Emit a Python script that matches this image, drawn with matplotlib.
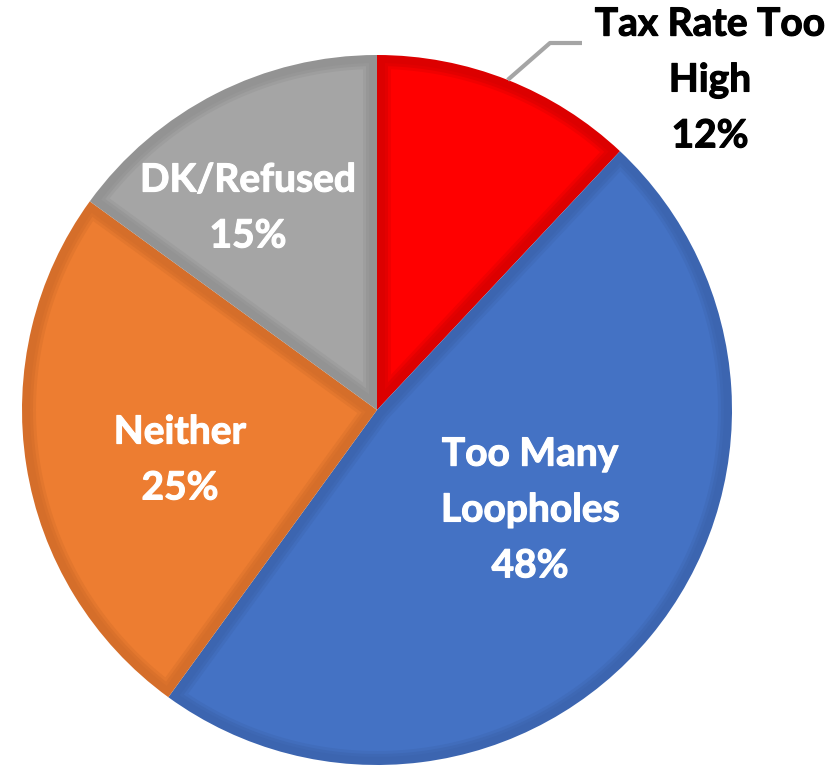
import matplotlib
matplotlib.use("Agg")
import matplotlib.pyplot as plt
import matplotlib.patheffects as pe
from matplotlib.patches import Polygon
from matplotlib.colors import to_rgb
import numpy as np

labels = ["Tax Rate Too\nHigh", "Too Many\nLoopholes", "Neither", "DK/Refused"]
values = [12, 48, 25, 15]
colors = ["#FF0000", "#4472C4", "#ED7D31", "#A5A5A5"]
edges = ["#DC0000", "#3C65B0", "#D56E2A", "#939393"]

plt.rcParams['font.family'] = ['Lato', 'DejaVu Sans']

fig = plt.figure(figsize=(8.35, 7.69), dpi=100)
ax = fig.add_axes([0, 0, 1, 1])

cx, cy, r = 377, 359, 355
wedges, _ = ax.pie(values, colors=edges, startangle=90, counterclock=False,
                   center=(cx, cy), radius=r, frame=True,
                   wedgeprops=dict(linewidth=0))


def inset(w, band):
    t1, t2 = np.radians(w.theta1), np.radians(w.theta2)
    half = (t2 - t1) / 2
    mid = t1 + half
    d_apex = band / np.sin(half)
    apex = (cx + d_apex * np.cos(mid), cy + d_apex * np.sin(mid))
    delta = np.arcsin(band / (r - band))
    ang = np.linspace(t1 + delta, t2 - delta, 200)
    return [apex] + list(zip(cx + (r - band) * np.cos(ang), cy + (r - band) * np.sin(ang)))


# darker band along the slice edges, fading into the face colour
for w, fc, ec in zip(wedges, colors, edges):
    for band, t in [(8, 0.2), (11, 0.6), (14, 1.0)]:
        c = tuple((1 - t) * np.array(to_rgb(ec)) + t * np.array(to_rgb(fc)))
        ax.add_patch(Polygon(inset(w, band), closed=True, facecolor=c, edgecolor='none'))

ax.set_xlim(0, 835)
ax.set_ylim(0, 769)
ax.set_aspect('equal')
ax.axis('off')

# inside labels
inside = {
    1: (530, 769 - 510),
    2: (180, 769 - 460),
    3: (248, 769 - 208),
}
for i, (x, y) in inside.items():
    ax.text(x, y, f"{labels[i]}\n{values[i]}%", ha='center', va='center',
            color='white', fontsize=28, fontweight='bold', linespacing=1.72,
            path_effects=[pe.withStroke(linewidth=0.8, foreground='white')])

# outside label with leader line for first slice
mid = 90 - values[0] / sum(values) * 360 / 2
px = cx + r * np.cos(np.radians(mid))
py = cy + r * np.sin(np.radians(mid))
ax.plot([px, 550, 582], [py, 769 - 43, 769 - 43], color='#A5A5A5', lw=3,
        solid_capstyle='butt', clip_on=False)
ax.text(710, 769 - 80, f"{labels[0]}\n{values[0]}%", ha='center', va='center',
        color='black', fontsize=28, fontweight='bold', linespacing=1.72,
        path_effects=[pe.withStroke(linewidth=0.8, foreground='black')])

fig.savefig("out.png", dpi=100)
